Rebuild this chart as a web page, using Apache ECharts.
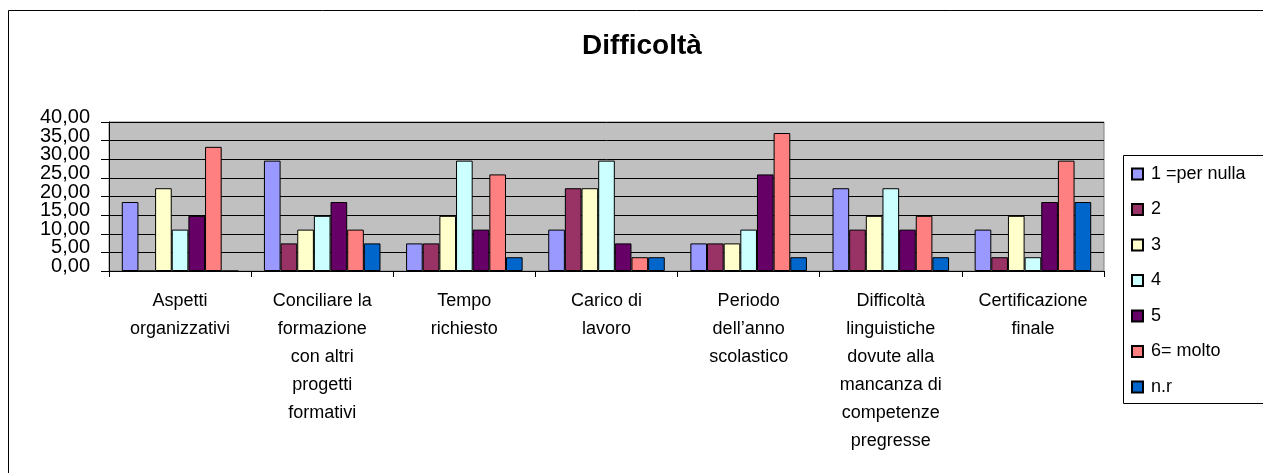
<!DOCTYPE html>
<html>
<head>
<meta charset="utf-8">
<script src="https://cdn.jsdelivr.net/npm/echarts@6/dist/echarts.min.js"></script>
<style>
html,body{margin:0;padding:0;background:#fff;}
#chart{width:1263px;height:473px;}
</style>
</head>
<body>
<div id="chart"></div>
<script>
const titleText = 'Difficoltà';
const categories = [
  'Aspetti\norganizzativi',
  'Conciliare la\nformazione\ncon altri\nprogetti\nformativi',
  'Tempo\nrichiesto',
  'Carico di\nlavoro',
  'Periodo\ndell’anno\nscolastico',
  'Difficoltà\nlinguistiche\ndovute alla\nmancanza di\ncompetenze\npregresse',
  'Certificazione\nfinale'
];
const seriesNames = ['1 =per nulla', '2', '3', '4', '5', '6= molto', 'n.r'];
const s1 = [18.52, 29.63, 7.41, 11.11, 7.41, 22.22, 11.11];
const s2 = [0, 7.41, 7.41, 22.22, 7.41, 11.11, 3.70];
const s3 = [22.22, 11.11, 14.81, 22.22, 7.41, 14.81, 14.81];
const s4 = [11.11, 14.81, 29.63, 29.63, 11.11, 22.22, 3.70];
const s5 = [14.81, 18.52, 11.11, 7.41, 25.93, 11.11, 18.52];
const s6 = [33.33, 11.11, 25.93, 3.70, 37.04, 14.81, 29.63];
const s7 = [0, 7.41, 3.70, 3.70, 3.70, 3.70, 18.52];
const yMin = 0, yMax = 40, yStep = 5;

const seriesData = [s1, s2, s3, s4, s5, s6, s7];
const colors = ['#9999FF', '#993366', '#FFFFCC', '#CCFFFF', '#660066', '#FF8080', '#0066CC'];
const FONT = '"Liberation Sans", Arial, sans-serif';
const fmt = v => v.toFixed(2).replace('.', ',');

// Two overlaid value axes share one scale: one prints the even ticks, the other the odd ones,
// so that ECharts' overlap hiding does not drop any of the tightly packed labels.
const yLabelBase = {
  margin: 19, fontFamily: FONT, fontSize: 20, color: '#000',
  lineHeight: 9, verticalAlign: 'bottom', hideOverlap: false
};

const chart = echarts.init(document.getElementById('chart'), null, {renderer: 'canvas'});
chart.setOption({
  animation: false,
  backgroundColor: '#ffffff',
  color: colors,
  title: {show: false},
  grid: {
    left: 109, right: 159, top: 122, bottom: 202,
    show: true, backgroundColor: '#C0C0C0', borderColor: '#808080', borderWidth: 1,
    containLabel: false
  },
  legend: {
    orient: 'vertical',
    left: 1131, top: 165,
    itemWidth: 11, itemHeight: 11, itemGap: 17.5,
    icon: 'rect',
    padding: 0,
    textStyle: {fontFamily: FONT, fontSize: 18, color: '#000', lineHeight: 18, padding: [0, 0, 0, 3]},
    data: seriesNames
  },
  xAxis: {
    type: 'category',
    data: categories,
    boundaryGap: true,
    axisLine: {show: true, lineStyle: {color: '#000', width: 1}},
    axisTick: {show: true, length: 6, inside: false, lineStyle: {color: '#000'}},
    axisLabel: {
      interval: 0, margin: 16,
      fontFamily: FONT, fontSize: 18, color: '#000', lineHeight: 28, align: 'center'
    },
    splitLine: {show: false}
  },
  yAxis: [
    {
      type: 'value', position: 'left',
      min: yMin, max: yMax, interval: yStep,
      axisLine: {show: true, lineStyle: {color: '#000', width: 1}},
      axisTick: {show: true, length: 8, lineStyle: {color: '#000'}},
      axisLabel: Object.assign({}, yLabelBase, {
        showMinLabel: true, showMaxLabel: true,
        formatter: v => (Math.round(v) % 10 === 0 ? fmt(v) : '')
      }),
      splitLine: {show: true, lineStyle: {color: '#000', width: 1}}
    },
    {
      type: 'value', position: 'left', offset: 0,
      min: yMin, max: yMax, interval: yStep,
      axisLine: {show: false},
      axisTick: {show: false},
      axisLabel: Object.assign({}, yLabelBase, {
        showMinLabel: false, showMaxLabel: false,
        formatter: v => (Math.round(v) % 10 !== 0 ? fmt(v) : '')
      }),
      splitLine: {show: false}
    }
  ],
  series: seriesData.map((d, i) => ({
    name: seriesNames[i],
    type: 'bar',
    yAxisIndex: 0,
    data: d,
    barGap: '0%',
    barCategoryGap: '18%',
    itemStyle: {color: colors[i], borderColor: '#000', borderWidth: 1}
  })),
  graphic: [
    {type: 'rect', shape: {x: 8.5, y: 10.5, width: 1300, height: 520}, style: {fill: 'none', stroke: '#000', lineWidth: 1}, silent: true, z: 100},
    {type: 'rect', shape: {x: 1123.5, y: 155.5, width: 200, height: 248}, style: {fill: 'none', stroke: '#000', lineWidth: 1}, silent: true, z: 100},
    {type: 'text', x: 642, y: 46, style: {text: titleText, fontFamily: FONT, fontSize: 28, fontWeight: 'bold', fill: '#000', align: 'center', verticalAlign: 'middle'}, z: 100}
  ]
});
</script>
</body>
</html>
